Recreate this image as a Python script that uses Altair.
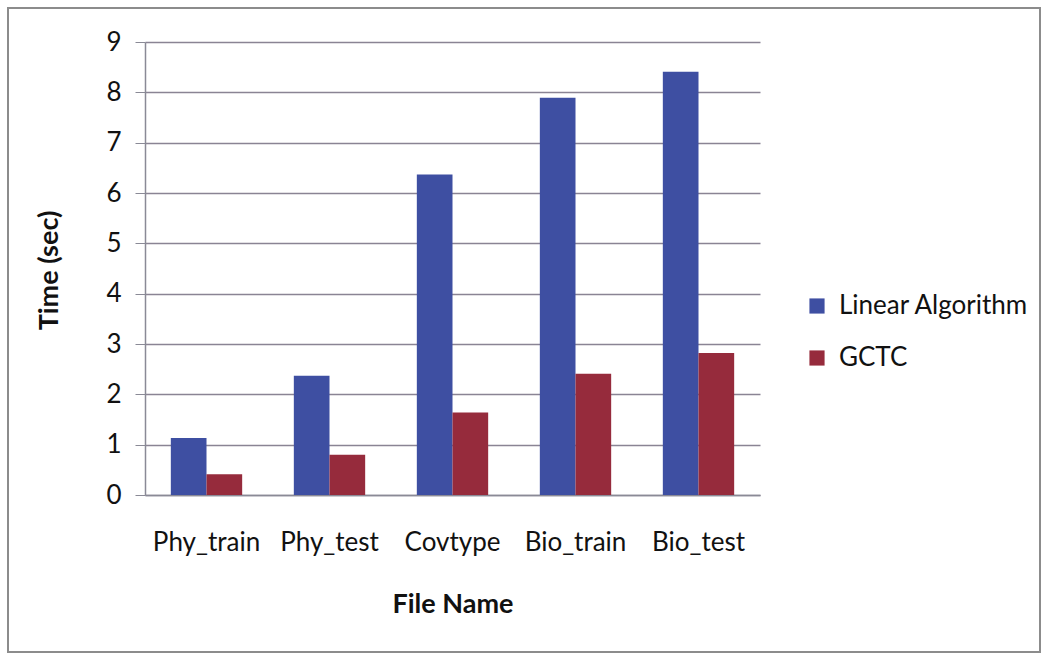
import altair as alt
import pandas as pd

# Processing time per input file for the two approaches
files = ["Phy_train", "Phy_test", "Covtype", "Bio_train", "Bio_test"]
series = ["Linear Algorithm", "GCTC"]
linear_times = [1.13, 2.37, 6.37, 7.89, 8.41]
gctc_times = [0.41, 0.80, 1.64, 2.41, 2.82]

rows = []
for f, lv, gv in zip(files, linear_times, gctc_times):
    rows.append({"file": f, "series": series[0], "time": lv})
    rows.append({"file": f, "series": series[1], "time": gv})
df = pd.DataFrame(rows)

FONT = "Lato"

bars = alt.Chart(df).mark_bar().encode(
    x=alt.X(
        "file:N",
        sort=files,
        title="File Name",
        scale=alt.Scale(paddingInner=0.42, paddingOuter=0.21),
        axis=alt.Axis(
            labelAngle=0,
            labelFontSize=26,
            labelColor="#111111",
            labelPadding=34,
            ticks=False,
            domainColor="#8a8a96",
            domainWidth=1.5,
            titleFontSize=27,
            titleFontWeight="bold",
            titleColor="#111111",
            titleY=109,
            titleBaseline="middle",
            grid=False,
        ),
    ),
    xOffset=alt.XOffset("series:N", sort=series),
    y=alt.Y(
        "time:Q",
        title="Time (sec)",
        scale=alt.Scale(domain=[0, 9], nice=False),
        axis=alt.Axis(
            values=list(range(10)),
            labelFontSize=26,
            labelColor="#111111",
            labelPadding=14,
            tickSize=10,
            tickColor="#8a8a96",
            domainColor="#8a8a96",
            domainWidth=1.5,
            gridColor="#8a8494",
            gridWidth=1.5,
            titleFontSize=27,
            titleFontWeight="bold",
            titleColor="#111111",
            titleX=-96,
            titleY=228,
            titleAngle=-90,
            titleBaseline="middle",
        ),
    ),
    color=alt.Color(
        "series:N",
        sort=series,
        scale=alt.Scale(domain=series, range=["#3E4FA2", "#962B3C"]),
        legend=alt.Legend(
            title=None,
            orient="none",
            legendX=659,
            legendY=251,
            symbolType="square",
            symbolSize=230,
            symbolStrokeWidth=0,
            labelFontSize=26,
            labelLimit=400,
            labelColor="#111111",
            rowPadding=26,
            labelOffset=9,
        ),
    ),
)

frame = alt.Chart(df).mark_rect(
    fill=None, stroke="#8c8c8c", strokeWidth=2
).encode(
    x=alt.value(-137),
    x2=alt.value(895),
    y=alt.value(-34),
    y2=alt.value(610),
)

chart = (
    alt.layer(frame, bars)
    .properties(
        width=615,
        height=453,
        autosize=alt.AutoSizeParams(type="none"),
        padding={"left": 145, "top": 42, "right": 285, "bottom": 161},
        background="white",
    )
    .configure(font=FONT)
    .configure_view(stroke=None)
)

chart.save("out.html", embed_options={"renderer": "svg", "actions": False})
